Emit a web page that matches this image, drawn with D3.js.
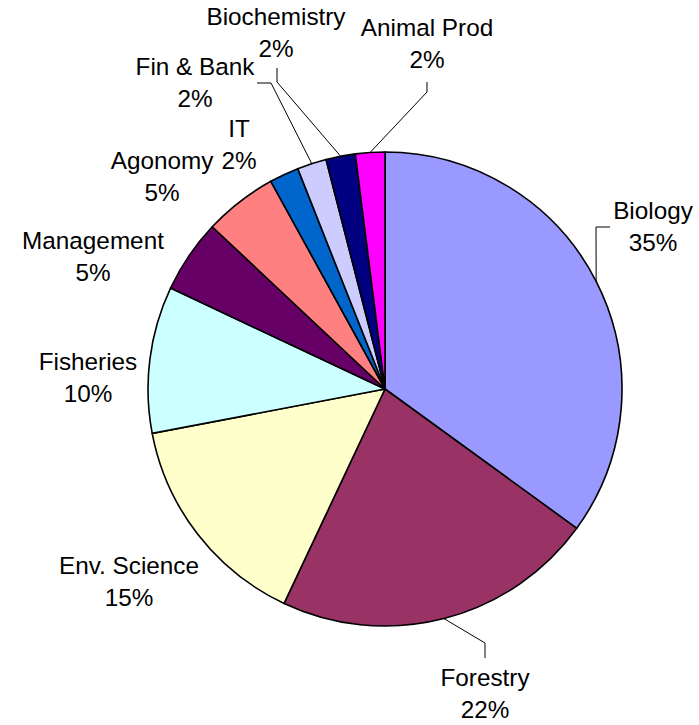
<!DOCTYPE html>
<html>
<head>
<meta charset="utf-8">
<script src="https://cdn.jsdelivr.net/npm/d3@7"></script>
<style>
  html, body { margin: 0; padding: 0; background: #fff; }
  svg text { font-family: "Liberation Sans", Arial, sans-serif; fill: #000; }
</style>
</head>
<body>
<svg id="chart" width="699" height="725"></svg>
<script>
// Fields of study, clockwise from 12 o'clock
const categories = ["Biology", "Forestry", "Env. Science", "Fisheries", "Management",
                    "Agonomy", "IT", "Fin & Bank", "Biochemistry", "Animal Prod"];
const shares = [35, 22, 15, 10, 5, 5, 2, 2, 2, 2];
const colors = ["#9999FF", "#993366", "#FFFFCC", "#CCFFFF", "#660066",
                "#FF8080", "#0066CC", "#CCCCFF", "#000080", "#FF00FF"];

// Label placement: centre x, first-line baseline y, optional leader elbow points
const labelLayout = [
  { x: 653, y: 219, leader: [[596, 227], [610, 227]] },
  { x: 485, y: 686, leader: [[485, 643], [485, 658]] },
  { x: 129, y: 574 },
  { x: 88,  y: 370 },
  { x: 93,  y: 249 },
  { x: 162, y: 169 },
  { x: 239, y: 137 },
  { x: 195, y: 75,  leader: [[271, 83], [257, 83]] },
  { x: 276, y: 25,  leader: [[277, 82], [277, 68]] },
  { x: 427, y: 36,  leader: [[427, 92], [427, 82]] }
];

const cx = 385, cy = 389, radius = 237;
const data = categories.map((c, i) => ({ name: c, value: shares[i], color: colors[i] }));

const svg = d3.select("#chart");
const g = svg.append("g").attr("transform", `translate(${cx},${cy})`);

const pie = d3.pie().value(d => d.value).sort(null).startAngle(0).endAngle(2 * Math.PI);
const arcs = pie(data);
const arc = d3.arc().innerRadius(0).outerRadius(radius);
const edge = d3.arc().innerRadius(radius).outerRadius(radius);

g.selectAll("path.slice")
  .data(arcs)
  .join("path")
  .attr("class", "slice")
  .attr("d", arc)
  .attr("fill", d => d.data.color)
  .attr("stroke", "#000")
  .attr("stroke-width", 1.6)
  .attr("stroke-linejoin", "round");

// Leader lines from the slice's outer edge midpoint to the label
const line = d3.line();
arcs.forEach((a, i) => {
  const lay = labelLayout[i];
  if (!lay.leader) return;
  const [ex, ey] = edge.centroid(a);
  const pts = [[cx + ex, cy + ey], ...lay.leader];
  svg.append("path")
    .attr("d", line(pts))
    .attr("fill", "none")
    .attr("stroke", "#000")
    .attr("stroke-width", 1);
});

// Category name and percentage labels
const lineGap = 31.5;
arcs.forEach((a, i) => {
  const lay = labelLayout[i];
  const t = svg.append("text")
    .attr("text-anchor", "middle")
    .attr("font-size", 24.3);
  t.append("tspan").attr("x", lay.x).attr("y", lay.y).text(a.data.name);
  t.append("tspan").attr("x", lay.x).attr("y", lay.y + lineGap).text(a.data.value + "%");
});
</script>
</body>
</html>
